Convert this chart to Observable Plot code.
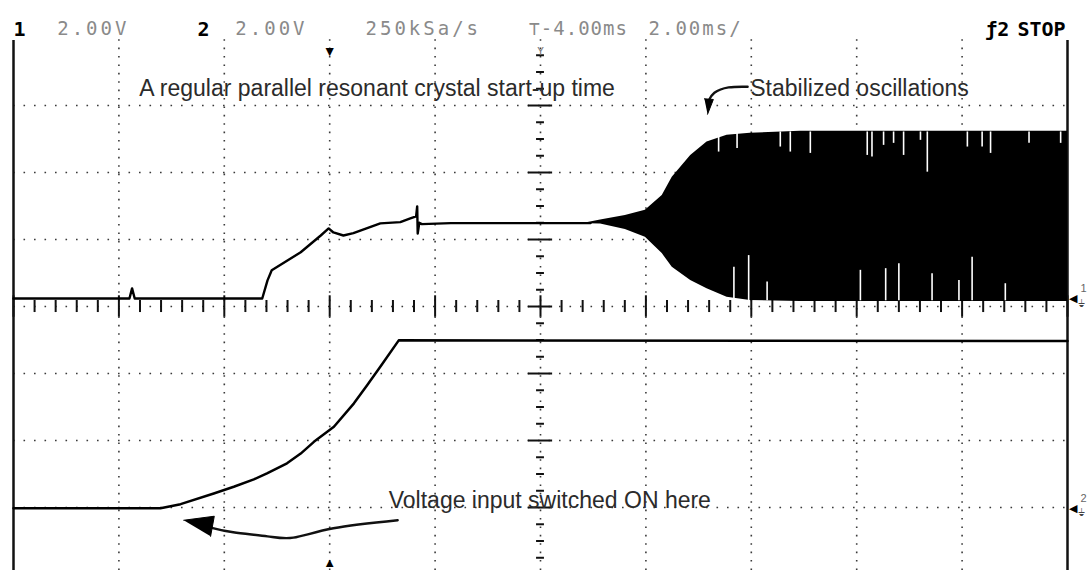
<!DOCTYPE html>
<html><head><meta charset="utf-8">
<script src="https://cdn.jsdelivr.net/npm/d3@7"></script>
<script src="https://cdn.jsdelivr.net/npm/@observablehq/plot@0.6"></script>
<style>
html,body{margin:0;padding:0;background:#fff;}
#chart svg{display:block;overflow:visible;}
</style></head><body><div id="chart"></div>
<script>
// ---- Channel 1 (2.00 V/div): trace before the oscillation (time in ms relative to trigger, volts)
const ch1Time = [-6, -3.8, -3.75, -3.7, -1.28, -1.18, -1.1, -0.55, -0.17, -0.02, 0.07, 0.26, 0.45, 0.96, 1.34, 1.53, 1.64, 1.66, 1.67, 1.70, 1.75, 2.3, 4.95];
const ch1Volt = [0, 0, 0.3, 0, 0, 0.54, 0.84, 1.38, 1.88, 2.09, 1.97, 1.88, 1.95, 2.24, 2.28, 2.39, 2.45, 2.75, 1.94, 2.26, 2.22, 2.25, 2.25];
// ---- Channel 1 oscillation envelope
const oscTime   = [4.9, 5.14, 5.61, 5.99, 6.31, 6.50, 6.85, 7.16, 7.54, 7.98, 8.93, 14];
const oscTop    = [2.27, 2.34, 2.48, 2.63, 3.07, 3.62, 4.27, 4.67, 4.87, 4.93, 4.99, 4.99];
const oscBottom = [2.23, 2.22, 2.06, 1.83, 1.34, 0.93, 0.54, 0.29, 0.04, -0.06, -0.09, -0.09];
// ---- dropouts inside the oscillation (from top edge down / from bottom edge up)
const dropTopTime = [7.38, 7.73, 8.55, 8.74, 9.12, 10.20, 10.29, 10.51, 10.70, 10.89, 11.21, 11.34, 12.10, 12.38, 12.54, 13.27, 13.87];
const dropTopVolt = [4.37, 4.48, 4.52, 4.37, 4.33, 4.27, 4.22, 4.57, 4.63, 4.27, 4.72, 3.77, 4.52, 4.52, 4.33, 4.63, 4.63];
const dropBotTime = [7.67, 7.95, 8.30, 10.07, 10.55, 10.80, 11.43, 11.94, 12.19, 12.82];
const dropBotVolt = [0.93, 1.28, 0.49, 0.84, 0.89, 1.04, 0.74, 0.54, 1.23, 0.44];
// ---- Channel 2 (2.00 V/div): supply voltage
const ch2Time = [-6, -3.21, -2.83, -2.20, -1.82, -1.44, -1.19, -0.81, -0.55, -0.30, 0.08, 0.46, 0.71, 0.96, 1.31, 14];
const ch2Volt = [0, 0, 0.12, 0.44, 0.64, 0.86, 1.04, 1.34, 1.63, 1.98, 2.43, 3.13, 3.67, 4.22, 5.01, 4.99];
// ---- header (status line) labels
const headerBold = ["1", "2", "ƒ2", "STOP"];
const headerBoldTime = [-6, -2.51, 12.44, 13.05];
const headerLcd = ["2.00V", "2.00V", "250kSa/s", "⊤-4.00ms", "2.00ms/"];
const headerLcdTime = [-5.17, -1.79, 0.68, 3.77, 6.05];
const headerLcdSpacing = [3, 3, 3, 1, 2];
// ---- annotations
const noteText = ["A regular parallel resonant crystal start-up time", "Stabilized oscillations", "Voltage input switched ON here"];
const noteTime = [0.90, 7.98, 1.12];
const noteDiv  = [3.25, 3.25, -2.90];
const arrow1Time = [1.29, 0.07, -0.69, -1.18, -1.83, -2.26];
const arrow1Div  = [-3.19, -3.31, -3.45, -3.43, -3.37, -3.30];
const head1Time = [-2.77, -2.19, -2.26];
const head1Div  = [-3.19, -3.13, -3.43];
const arrow2Time = [7.93, 7.57, 7.30, 7.19];
const arrow2Div  = [3.28, 3.27, 3.19, 3.07];
const head2Time = [7.11, 7.28, 7.17];
const head2Div  = [3.10, 3.09, 2.87];

// screen settings: 2 V/div; channel ground offsets in divisions
const VDIV = 2, OFF1 = 0.12, OFF2 = -3.01;
const y1 = v => OFF1 + v / VDIV, y2 = v => OFF2 + v / VDIV;

const ch1 = ch1Time.map((t, i) => ({t, v: ch1Volt[i]}));
const osc = oscTime.map((t, i) => ({t, hi: oscTop[i], lo: oscBottom[i]}));
const dTop = dropTopTime.map((t, i) => ({t, v: dropTopVolt[i]}));
const dBot = dropBotTime.map((t, i) => ({t, v: dropBotVolt[i]}));
const ch2 = ch2Time.map((t, i) => ({t, v: ch2Volt[i]}));
const notes = noteText.map((s, i) => ({s, t: noteTime[i], d: noteDiv[i]}));
const pts = (T, D) => T.map((t, i) => ({t, d: D[i]}));

const majorX = d3.range(-4, 13, 2);
const majorY = [-3, -2, -1, 0, 1, 2, 3];
const minorX = d3.range(0, 51).map(k => -6 + k * 0.4);
const minorY = d3.range(0, 32).map(k => -3.75 + k * 0.25).filter(v => v < 4);
const isMajor = (v, step) => Math.abs(v / step - Math.round(v / step)) < 1e-6;

const FONT = "Liberation Sans, Arial, sans-serif";
const MONO = "DejaVu Sans Mono, monospace";
const NOTE_SIZE = 23;

const chart = Plot.plot({
  width: 1090, height: 570,
  marginLeft: 13, marginRight: 23, marginTop: 38, marginBottom: 0,
  x: {domain: [-6, 14], axis: null},
  y: {domain: [-3.94, 4], axis: null},
  style: {background: "white", overflow: "visible"},
  marks: [
    // graticule
    Plot.ruleX(majorX, {y1: -3.94, y2: 4, stroke: "#3a3a3a", strokeWidth: 1.6, strokeDasharray: "1.6,6.8"}),
    Plot.ruleY(majorY, {x1: -6, x2: 14, stroke: "#3a3a3a", strokeWidth: 1.6, strokeDasharray: "1.6,8.9"}),
    Plot.ruleX(minorX, {y1: d => (isMajor(d, 2) ? -0.16 : -0.09), y2: d => (isMajor(d, 2) ? 0.16 : 0.09), stroke: "#111", strokeWidth: 2}),
    Plot.ruleY(minorY, {x1: d => 4 - (isMajor(d, 1) ? 0.23 : 0.075), x2: d => 4 + (isMajor(d, 1) ? 0.23 : 0.075), stroke: "#111", strokeWidth: 2}),
    // frame
    Plot.ruleX([-6, 14], {y1: -3.94, y2: 3.97, stroke: "#111", strokeWidth: 2.5}),
    // channel 1
    Plot.line(ch1, {x: "t", y: d => y1(d.v), stroke: "#000", strokeWidth: 2.4}),
    Plot.areaY(osc, {x: "t", y1: d => y1(d.lo), y2: d => y1(d.hi), fill: "#000"}),
    Plot.ruleX(dTop, {x: "t", y1: () => y1(4.97), y2: d => y1(d.v), stroke: "#fff", strokeWidth: 1.6}),
    Plot.ruleX(dBot, {x: "t", y1: () => y1(-0.07), y2: d => y1(d.v), stroke: "#fff", strokeWidth: 1.6}),
    // channel 2
    Plot.line(ch2, {x: "t", y: d => y2(d.v), stroke: "#000", strokeWidth: 2.5}),
    // annotations
    Plot.text(notes.slice(0, 1), {x: "t", y: "d", text: "s", textAnchor: "middle", fontFamily: FONT, fontSize: NOTE_SIZE, fill: "#2b2b2b"}),
    Plot.text(notes.slice(1), {x: "t", y: "d", text: "s", textAnchor: "start", fontFamily: FONT, fontSize: NOTE_SIZE, fill: "#2b2b2b"}),
    Plot.line(pts(arrow1Time, arrow1Div), {x: "t", y: "d", curve: "natural", stroke: "#111", strokeWidth: 2.4}),
    Plot.line(pts(head1Time, head1Div), {x: "t", y: "d", fill: "#000", stroke: "#000", strokeWidth: 1}),
    Plot.line(pts(arrow2Time, arrow2Div), {x: "t", y: "d", curve: "natural", stroke: "#111", strokeWidth: 2.4}),
    Plot.line(pts(head2Time, head2Div), {x: "t", y: "d", fill: "#000", stroke: "#000", strokeWidth: 1}),
    // status line
    Plot.text(headerBoldTime.map((t, i) => ({t, s: headerBold[i]})), {x: "t", text: "s", frameAnchor: "top", dy: -17, textAnchor: "start", fontFamily: MONO, fontWeight: "bold", fontSize: 20, fill: "#000"}),
    Plot.text(headerLcdTime.map((t, i) => ({t, s: headerLcd[i]})), {x: "t", text: "s", frameAnchor: "top", dy: -17, textAnchor: "start", fontFamily: MONO, fontSize: 19, fill: "#8a8a8a"}),
    // markers
    Plot.text([0], {x: d => d, text: () => "▼", frameAnchor: "top", dy: 8, fontSize: 14, fill: "#000"}),
    Plot.text([0], {x: d => d, text: () => "▲", frameAnchor: "bottom", dy: -4, fontSize: 13, fill: "#000"}),
    Plot.text([4], {x: d => d, text: () => "Y", frameAnchor: "top", dy: 9, fontSize: 11, fill: "#777", fontFamily: MONO}),
    Plot.text([{d: OFF1, s: "1"}, {d: OFF2, s: "2"}], {y: "d", text: () => "◀", frameAnchor: "right", dx: 9, fontSize: 11, fill: "#000"}),
    Plot.text([{d: OFF1, s: "1"}, {d: OFF2, s: "2"}], {y: "d", text: "s", frameAnchor: "right", dx: 19, dy: -10, fontSize: 11, fill: "#666", fontFamily: FONT}),
    Plot.text([{d: OFF1}, {d: OFF2}], {y: "d", text: () => "⏚", frameAnchor: "right", dx: 17, dy: 5, fontSize: 10, fill: "#444"})
  ]
});
// LCD-style spacing for the status-line values
d3.select(chart).selectAll("text").each(function () {
  const i = headerLcd.indexOf(this.textContent);
  if (i >= 0) d3.select(this).attr("letter-spacing", headerLcdSpacing[i]);
});
document.getElementById("chart").appendChild(chart);
</script></body></html>
